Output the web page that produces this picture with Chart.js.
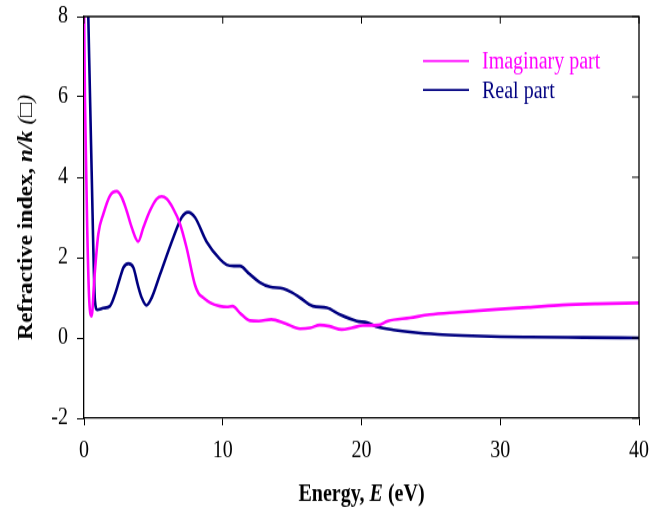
<!DOCTYPE html>
<html>
<head>
<meta charset="utf-8">
<script src="https://cdn.jsdelivr.net/npm/chart.js@4"></script>
<style>
html, body { margin: 0; padding: 0; background: #fff; overflow: hidden; }
#wrap { width: 661px; height: 508px; }
/* the plot is drawn a bit short and stretched to full height */
#chart { display: block; transform-origin: 0 0; transform: scale(1, 1.1814); }
</style>
</head>
<body>
<div id="wrap"><canvas id="chart" width="661" height="430"></canvas></div>
<script>
// imaginary part k(E)
const imagEnergy = [0, 0.07, 0.24, 0.38, 0.55, 0.75, 1.03, 1.39, 1.87, 2.35, 2.72, 3.07, 3.44, 3.91, 4.28, 4.76,
    5.24, 5.6, 5.96, 6.44, 6.92, 7.39, 7.99, 8.24, 8.6, 9.08, 9.8, 10.3, 10.7, 11.3, 11.96, 12.6, 13.5, 14.5,
    15.57, 16.3, 17.0, 17.7, 18.57, 19.3, 20.1, 21.2, 21.9, 23.5, 24.9, 27.0, 29.7, 32.0, 34.5, 37.0, 40];
const imagK = [8.4, 5.9, 2.6, 0.92, 0.54, 1.5, 2.58, 3.08, 3.54, 3.65, 3.5, 3.17, 2.75, 2.4, 2.75, 3.17,
    3.46, 3.52, 3.46, 3.21, 2.84, 2.25, 1.33, 1.12, 1.0, 0.88, 0.79, 0.77, 0.79, 0.6, 0.43, 0.42, 0.46, 0.36,
    0.23, 0.25, 0.32, 0.29, 0.21, 0.25, 0.31, 0.32, 0.42, 0.5, 0.58, 0.64, 0.71, 0.76, 0.82, 0.85, 0.87];

// real part n(E)
const realEnergy = [0.2, 0.31, 0.55, 0.79, 0.95, 1.39, 1.87, 2.23, 2.6, 2.84, 3.2, 3.56, 3.9, 4.16, 4.5, 4.88,
    5.48, 6.44, 7.04, 7.5, 8.0, 8.83, 9.8, 10.28, 10.8, 11.24, 11.9, 12.68, 13.4, 14.36, 15.0, 15.57, 16.5,
    17.5, 18.45, 19.65, 20.4, 21.2, 22.3, 23.7, 25.5, 27.3, 30, 32.1, 36, 40];
const realN = [9.8, 8, 4.17, 0.92, 0.7, 0.74, 0.79, 1.08, 1.5, 1.75, 1.85, 1.75, 1.29, 1.0, 0.81, 1.0,
    1.58, 2.5, 3.0, 3.13, 3.0, 2.4, 1.96, 1.82, 1.79, 1.79, 1.6, 1.38, 1.27, 1.23, 1.13, 1.0, 0.79,
    0.75, 0.58, 0.42, 0.38, 0.27, 0.2, 0.14, 0.09, 0.06, 0.03, 0.02, 0.01, 0.0];

const xTicks = { min: 0, max: 40, step: 10 };
const yTicks = { min: -2, max: 8, step: 2 };

const FONT = '"Liberation Serif", "Times New Roman", serif';

function pts(xs, ys) {
    return xs.map((x, i) => ({ x: x, y: ys[i] }));
}

// writes a line of text made of runs with different styles
function drawRuns(ctx, runs, x, y) {
    let total = 0;
    runs.forEach(r => { ctx.font = r.f; total += ctx.measureText(r.t).width; });
    let cx = x - total / 2;
    ctx.textAlign = 'left';
    ctx.textBaseline = 'alphabetic';
    runs.forEach(r => {
        ctx.font = r.f;
        ctx.fillText(r.t, cx, y);
        cx += ctx.measureText(r.t).width;
    });
}

// keep the plot box where the layout padding puts it
function noLabelPadding(s) {
    s.paddingTop = 0; s.paddingBottom = 0; s.paddingLeft = 0; s.paddingRight = 0;
}

// closing frame with inward ticks on top and right, axis titles, legend
const decor = {
    id: 'decor',
    afterDraw(chart) {
        const ctx = chart.ctx;
        const a = chart.chartArea;
        const xs = chart.scales.x, ys = chart.scales.y;
        ctx.save();
        ctx.strokeStyle = '#000';
        ctx.lineWidth = 1.3;
        ctx.beginPath();
        ctx.moveTo(a.left, a.top); ctx.lineTo(a.right, a.top); ctx.lineTo(a.right, a.bottom);
        ctx.stroke();
        ctx.lineWidth = 1;
        ctx.beginPath();
        xs.ticks.forEach(t => {
            const px = xs.getPixelForValue(t.value);
            ctx.moveTo(px, a.top); ctx.lineTo(px, a.top + 6);
        });
        ys.ticks.forEach(t => {
            const py = ys.getPixelForValue(t.value);
            ctx.moveTo(a.right, py); ctx.lineTo(a.right - 7, py);
        });
        ctx.stroke();

        ctx.fillStyle = '#000';
        drawRuns(ctx, [
            { t: 'Energy, ', f: 'bold 20px ' + FONT },
            { t: 'E', f: 'italic bold 20px ' + FONT },
            { t: ' (eV)', f: 'bold 20px ' + FONT }
        ], (a.left + a.right) / 2, 424);

        ctx.save();
        ctx.translate(32, (a.top + a.bottom) / 2);
        ctx.rotate(-Math.PI / 2);
        drawRuns(ctx, [
            { t: 'Refractive index, ', f: 'bold 20px ' + FONT },
            { t: 'n/k', f: 'italic bold 20px ' + FONT },
            { t: ' (\u25A1)', f: 'italic 20px ' + FONT }
        ], 0, 0);
        ctx.restore();

        // legend
        chart.data.datasets.forEach((ds, i) => {
            const ly = 51.6 + i * 24.6;
            ctx.strokeStyle = ds.borderColor;
            ctx.lineWidth = 1.7;
            ctx.beginPath();
            ctx.moveTo(423, ly); ctx.lineTo(469, ly);
            ctx.stroke();
            ctx.fillStyle = ds.borderColor;
            ctx.font = '20px ' + FONT;
            ctx.textAlign = 'left';
            ctx.textBaseline = 'alphabetic';
            ctx.fillText(ds.label, 482, ly + 6.8);
        });
        ctx.restore();
    }
};

new Chart(document.getElementById('chart'), {
    type: 'line',
    data: {
        datasets: [
            { label: 'Imaginary part', data: pts(imagEnergy, imagK), borderColor: '#FF00FF', borderWidth: 2.6,
              pointRadius: 0, cubicInterpolationMode: 'monotone', fill: false },
            { label: 'Real part', data: pts(realEnergy, realN), borderColor: '#000080', borderWidth: 2.6,
              pointRadius: 0, cubicInterpolationMode: 'monotone', fill: false }
        ]
    },
    options: {
        responsive: false,
        devicePixelRatio: 1,
        animation: false,
        layout: { padding: { left: 0, top: 14, right: 22, bottom: 0 } },
        plugins: { legend: { display: false }, tooltip: { enabled: false } },
        scales: {
            x: {
                type: 'linear', min: xTicks.min, max: xTicks.max,
                ticks: { stepSize: xTicks.step, color: '#000', padding: 9.5, font: { family: FONT, size: 20 } },
                grid: { drawOnChartArea: false, tickLength: 6, color: '#000', lineWidth: 1 },
                border: { color: '#000', width: 1.3 },
                afterFit: s => { s.height = 76; noLabelPadding(s); }
            },
            y: {
                min: yTicks.min, max: yTicks.max,
                ticks: { stepSize: yTicks.step, color: '#000', padding: 9, font: { family: FONT, size: 20 } },
                grid: { drawOnChartArea: false, tickLength: 7, color: '#000', lineWidth: 1 },
                border: { color: '#000', width: 1.3 },
                afterFit: s => { s.width = 84; noLabelPadding(s); }
            }
        }
    },
    plugins: [decor]
});
</script>
</body>
</html>
